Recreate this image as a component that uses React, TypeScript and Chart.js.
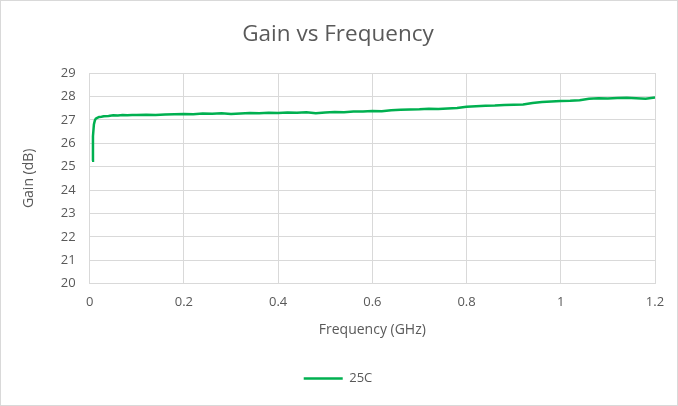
import React, { useEffect, useRef } from "react";
import { Chart, registerables } from "chart.js";

Chart.register(...registerables);

const freqGHz = [
  0.005, 0.007, 0.009, 0.011, 0.013, 0.016, 0.02, 0.025, 0.03, 0.04, 0.05, 0.06, 0.07, 0.08, 0.09,
  0.1, 0.12, 0.14, 0.16, 0.18, 0.2, 0.22, 0.24, 0.26, 0.28, 0.3, 0.32, 0.34, 0.36, 0.38, 0.4,
  0.42, 0.44, 0.46, 0.48, 0.5, 0.52, 0.54, 0.56, 0.58, 0.6, 0.62, 0.64, 0.66, 0.68, 0.7, 0.72,
  0.74, 0.76, 0.78, 0.8, 0.82, 0.84, 0.86, 0.88, 0.9, 0.92, 0.94, 0.96, 0.98, 1.0, 1.02, 1.04,
  1.06, 1.08, 1.1, 1.12, 1.14, 1.16, 1.18, 1.2,
];

const gain25C = [
  25.25, 26.3, 26.8, 26.97, 27.05, 27.08, 27.12, 27.13, 27.15, 27.16, 27.19, 27.18, 27.2, 27.19, 27.21,
  27.2, 27.22, 27.21, 27.23, 27.24, 27.25, 27.24, 27.27, 27.26, 27.28, 27.25, 27.27, 27.29, 27.28, 27.3, 27.29,
  27.31, 27.3, 27.32, 27.28, 27.31, 27.33, 27.32, 27.35, 27.36, 27.38, 27.37, 27.41, 27.43, 27.44, 27.45, 27.47,
  27.46, 27.48, 27.5, 27.56, 27.58, 27.6, 27.61, 27.63, 27.64, 27.65, 27.72, 27.76, 27.78, 27.8, 27.81, 27.84,
  27.9, 27.92, 27.91, 27.93, 27.94, 27.92, 27.9, 27.95,
];

const seriesName = "25C";
const chartTitle = "Gain vs Frequency";
const xTitle = "Frequency (GHz)";
const yTitle = "Gain (dB)";

const FONT = "'Open Sans', 'Noto Sans', sans-serif";
const TEXT = "#595959";
const GRID = "#d9d9d9";

export default function App() {
  const ref = useRef<HTMLCanvasElement | null>(null);

  useEffect(() => {
    document.body.style.margin = "0";
    const canvas = ref.current;
    if (!canvas) return;
    const chart = new Chart(canvas, {
      type: "line",
      data: {
        datasets: [
          {
            label: seriesName,
            data: freqGHz.map((f, i) => ({ x: f, y: gain25C[i] })),
            borderColor: "#00B050",
            backgroundColor: "#00B050",
            borderWidth: 2.5,
            pointRadius: 0,
            tension: 0,
            fill: false,
          },
        ],
      },
      options: {
        animation: false,
        responsive: true,
        maintainAspectRatio: false,
        layout: { padding: { left: 20, right: 22, top: 10, bottom: 10 } },
        plugins: {
          title: {
            display: true,
            text: chartTitle,
            color: TEXT,
            font: { family: FONT, size: 22.5, weight: "normal" },
            padding: { top: 10, bottom: 25 },
          },
          legend: {
            position: "bottom",
            labels: {
              color: TEXT,
              font: { family: FONT, size: 13 },
              usePointStyle: true,
              pointStyle: "line",
              pointStyleWidth: 39,
              boxHeight: 3,
              padding: 10,
            },
          },
          tooltip: { enabled: false },
        },
        scales: {
          x: {
            type: "linear",
            min: 0,
            max: 1.2,
            grid: { color: GRID, drawTicks: false },
            border: { color: GRID },
            ticks: {
              stepSize: 0.2,
              color: TEXT,
              font: { family: FONT, size: 13 },
              padding: 11,
              callback: (v: any) => String(Math.round(Number(v) * 10) / 10),
            },
            title: {
              display: true,
              text: xTitle,
              color: TEXT,
              font: { family: FONT, size: 14 },
              padding: { top: 0, bottom: 24 },
            },
          },
          y: {
            min: 20,
            max: 29,
            grid: { color: GRID, drawTicks: false },
            border: { display: false },
            ticks: {
              stepSize: 1,
              color: TEXT,
              font: { family: FONT, size: 13 },
              padding: 14,
            },
            title: {
              display: true,
              text: yTitle,
              color: TEXT,
              font: { family: FONT, size: 14 },
              padding: { top: 0, bottom: 9 },
            },
          },
        },
      },
    });
    return () => chart.destroy();
  }, []);

  return (
    <div
      style={{
        position: "absolute",
        left: 0,
        top: 0,
        width: 678,
        height: 406,
        boxSizing: "border-box",
        border: "1px solid #d9d9d9",
        background: "#fff",
      }}
    >
      <canvas ref={ref} />
    </div>
  );
}
